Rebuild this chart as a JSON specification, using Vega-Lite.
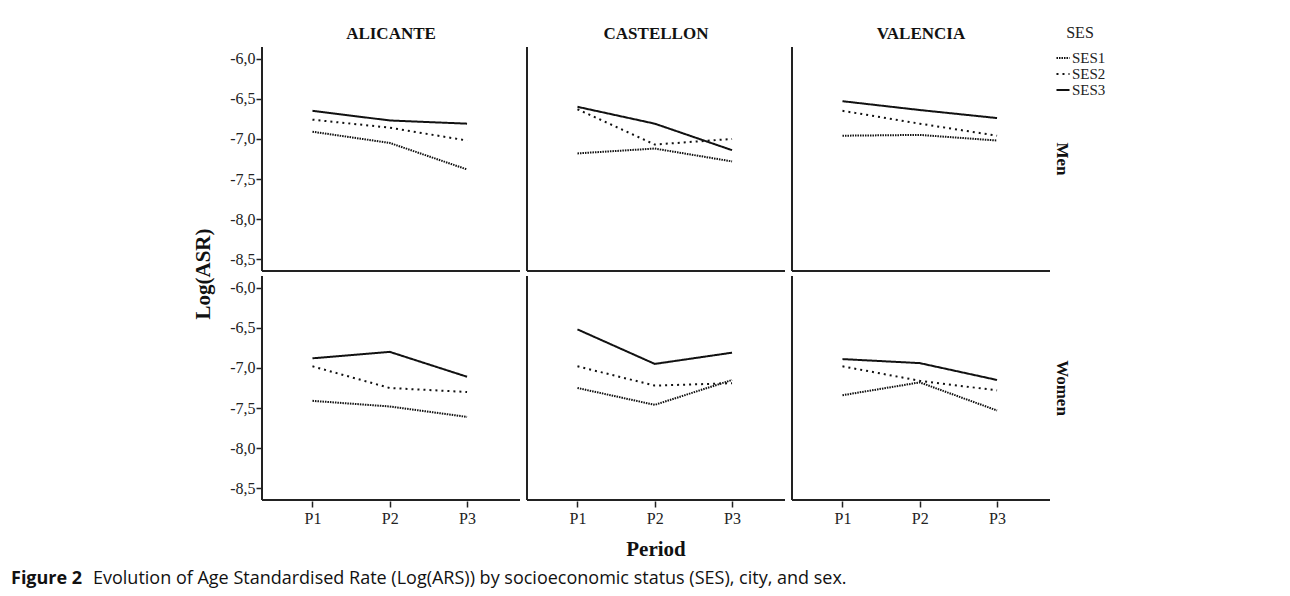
{
  "$schema": "https://vega.github.io/schema/vega-lite/v6.json",
  "padding": {"left": 11, "top": 25, "right": 0, "bottom": 0},
  "background": "white",
  "datasets": {
    "rates": [
      {"city": "ALICANTE", "sex": "Men", "ses": "SES1", "p": 1, "v": -6.91},
      {"city": "ALICANTE", "sex": "Men", "ses": "SES1", "p": 2, "v": -7.05},
      {"city": "ALICANTE", "sex": "Men", "ses": "SES1", "p": 3, "v": -7.38},
      {"city": "ALICANTE", "sex": "Men", "ses": "SES2", "p": 1, "v": -6.76},
      {"city": "ALICANTE", "sex": "Men", "ses": "SES2", "p": 2, "v": -6.86},
      {"city": "ALICANTE", "sex": "Men", "ses": "SES2", "p": 3, "v": -7.02},
      {"city": "ALICANTE", "sex": "Men", "ses": "SES3", "p": 1, "v": -6.65},
      {"city": "ALICANTE", "sex": "Men", "ses": "SES3", "p": 2, "v": -6.77},
      {"city": "ALICANTE", "sex": "Men", "ses": "SES3", "p": 3, "v": -6.81},
      {"city": "CASTELLON", "sex": "Men", "ses": "SES1", "p": 1, "v": -7.18},
      {"city": "CASTELLON", "sex": "Men", "ses": "SES1", "p": 2, "v": -7.12},
      {"city": "CASTELLON", "sex": "Men", "ses": "SES1", "p": 3, "v": -7.28},
      {"city": "CASTELLON", "sex": "Men", "ses": "SES2", "p": 1, "v": -6.63},
      {"city": "CASTELLON", "sex": "Men", "ses": "SES2", "p": 2, "v": -7.07},
      {"city": "CASTELLON", "sex": "Men", "ses": "SES2", "p": 3, "v": -7.0},
      {"city": "CASTELLON", "sex": "Men", "ses": "SES3", "p": 1, "v": -6.6},
      {"city": "CASTELLON", "sex": "Men", "ses": "SES3", "p": 2, "v": -6.81},
      {"city": "CASTELLON", "sex": "Men", "ses": "SES3", "p": 3, "v": -7.14},
      {"city": "VALENCIA", "sex": "Men", "ses": "SES1", "p": 1, "v": -6.96},
      {"city": "VALENCIA", "sex": "Men", "ses": "SES1", "p": 2, "v": -6.95},
      {"city": "VALENCIA", "sex": "Men", "ses": "SES1", "p": 3, "v": -7.02},
      {"city": "VALENCIA", "sex": "Men", "ses": "SES2", "p": 1, "v": -6.65},
      {"city": "VALENCIA", "sex": "Men", "ses": "SES2", "p": 2, "v": -6.81},
      {"city": "VALENCIA", "sex": "Men", "ses": "SES2", "p": 3, "v": -6.96},
      {"city": "VALENCIA", "sex": "Men", "ses": "SES3", "p": 1, "v": -6.53},
      {"city": "VALENCIA", "sex": "Men", "ses": "SES3", "p": 2, "v": -6.64},
      {"city": "VALENCIA", "sex": "Men", "ses": "SES3", "p": 3, "v": -6.74},
      {"city": "ALICANTE", "sex": "Women", "ses": "SES1", "p": 1, "v": -7.41},
      {"city": "ALICANTE", "sex": "Women", "ses": "SES1", "p": 2, "v": -7.48},
      {"city": "ALICANTE", "sex": "Women", "ses": "SES1", "p": 3, "v": -7.61},
      {"city": "ALICANTE", "sex": "Women", "ses": "SES2", "p": 1, "v": -6.98},
      {"city": "ALICANTE", "sex": "Women", "ses": "SES2", "p": 2, "v": -7.25},
      {"city": "ALICANTE", "sex": "Women", "ses": "SES2", "p": 3, "v": -7.3},
      {"city": "ALICANTE", "sex": "Women", "ses": "SES3", "p": 1, "v": -6.88},
      {"city": "ALICANTE", "sex": "Women", "ses": "SES3", "p": 2, "v": -6.8},
      {"city": "ALICANTE", "sex": "Women", "ses": "SES3", "p": 3, "v": -7.11},
      {"city": "CASTELLON", "sex": "Women", "ses": "SES1", "p": 1, "v": -7.25},
      {"city": "CASTELLON", "sex": "Women", "ses": "SES1", "p": 2, "v": -7.46},
      {"city": "CASTELLON", "sex": "Women", "ses": "SES1", "p": 3, "v": -7.15},
      {"city": "CASTELLON", "sex": "Women", "ses": "SES2", "p": 1, "v": -6.98},
      {"city": "CASTELLON", "sex": "Women", "ses": "SES2", "p": 2, "v": -7.22},
      {"city": "CASTELLON", "sex": "Women", "ses": "SES2", "p": 3, "v": -7.19},
      {"city": "CASTELLON", "sex": "Women", "ses": "SES3", "p": 1, "v": -6.52},
      {"city": "CASTELLON", "sex": "Women", "ses": "SES3", "p": 2, "v": -6.95},
      {"city": "CASTELLON", "sex": "Women", "ses": "SES3", "p": 3, "v": -6.81},
      {"city": "VALENCIA", "sex": "Women", "ses": "SES1", "p": 1, "v": -7.34},
      {"city": "VALENCIA", "sex": "Women", "ses": "SES1", "p": 2, "v": -7.18},
      {"city": "VALENCIA", "sex": "Women", "ses": "SES1", "p": 3, "v": -7.53},
      {"city": "VALENCIA", "sex": "Women", "ses": "SES2", "p": 1, "v": -6.98},
      {"city": "VALENCIA", "sex": "Women", "ses": "SES2", "p": 2, "v": -7.16},
      {"city": "VALENCIA", "sex": "Women", "ses": "SES2", "p": 3, "v": -7.28},
      {"city": "VALENCIA", "sex": "Women", "ses": "SES3", "p": 1, "v": -6.89},
      {"city": "VALENCIA", "sex": "Women", "ses": "SES3", "p": 2, "v": -6.94},
      {"city": "VALENCIA", "sex": "Women", "ses": "SES3", "p": 3, "v": -7.15}
    ]
  },
  "title": {
    "text": "Evolution of Age Standardised Rate (Log(ARS)) by socioeconomic status (SES), city, and sex.",
    "orient": "bottom", "anchor": "start", "frame": "bounds",
    "font": "Open Sans", "fontSize": 18, "fontWeight": "normal", "color": "#111",
    "offset": 0, "dx": 82, "dy": -18
  },
  "vconcat": [
    {
      "data": {"name": "rates"},
      "title": {
        "text": "Figure 2",
        "orient": "bottom", "anchor": "start", "frame": "bounds",
        "font": "Open Sans", "fontSize": 18, "fontWeight": "bold", "color": "#111",
        "offset": 10, "dx": -182
      },
      "facet": {
        "row": {
          "field": "sex", "type": "nominal", "sort": ["Men", "Women"],
          "header": {
            "title": "Log(ASR)", "titleOrient": "left", "titleAngle": -90,
            "titleFont": "Liberation Serif", "titleFontSize": 21, "titleFontWeight": "bold", "titleColor": "#111", "titlePadding": -16,
            "labelOrient": "right", "labelAngle": 90, "labelFont": "Liberation Serif", "labelFontSize": 17,
            "labelFontWeight": "bold", "labelColor": "#111", "labelPadding": 2
          }
        },
        "column": {
          "field": "city", "type": "nominal", "sort": ["ALICANTE", "CASTELLON", "VALENCIA"],
          "header": {
            "title": "Period", "titleOrient": "bottom",
            "titleFont": "Liberation Serif", "titleFontSize": 21, "titleFontWeight": "bold", "titleColor": "#111", "titlePadding": 3,
            "labelOrient": "top", "labelFont": "Liberation Serif", "labelFontSize": 17,
            "labelFontWeight": "bold", "labelColor": "#111", "labelPadding": 3
          }
        }
      },
      "spacing": {"row": 3, "column": 5},
      "spec": {
        "width": 258,
        "height": 224,
        "layer": [
          {
            "mark": {"type": "line", "color": "#111", "strokeWidth": 2},
            "encoding": {
              "x": {
                "field": "p", "type": "quantitative",
                "scale": {"domain": [0.347, 3.685], "nice": false, "zero": false},
                "axis": {
                  "title": null, "values": [1, 2, 3], "labelExpr": "'P' + datum.value",
                  "domain": false, "grid": false, "tickSize": 6, "tickColor": "#222", "tickWidth": 1.5,
                  "labelFont": "Liberation Serif", "labelFontSize": 16, "labelColor": "#222", "labelPadding": 3
                }
              },
              "y": {
                "field": "v", "type": "quantitative",
                "scale": {"domain": [-8.645, -5.855], "nice": false, "zero": false},
                "axis": {
                  "title": null, "values": [-8.5, -8, -7.5, -7, -6.5, -6],
                  "labelExpr": "replace(replace(format(datum.value, '.1f'), '.', ','), '\u2212', '-')",
                  "domain": false, "grid": false, "tickSize": 5, "tickColor": "#222", "tickWidth": 1.5,
                  "labelFont": "Liberation Serif", "labelFontSize": 16, "labelColor": "#222", "labelPadding": 1
                }
              },
              "strokeDash": {
                "field": "ses", "type": "nominal",
                "scale": {"domain": ["SES1", "SES2", "SES3"], "range": [[1.5, 1], [2, 4], [1, 0]]},
                "legend": {
                  "title": "SES", "orient": "none", "legendX": 793, "legendY": -22,
                  "titleFont": "Liberation Serif", "titleFontSize": 16, "titleFontWeight": "normal", "titleColor": "#222",
                  "titleAnchor": "middle", "titleAlign": "center", "titlePadding": 9,
                  "labelFont": "Liberation Serif", "labelFontSize": 15, "labelColor": "#222", "labelOffset": 1,
                  "symbolType": "stroke", "symbolStrokeWidth": 2, "symbolStrokeColor": "#111", "symbolSize": 170,
                  "rowPadding": -2.5
                }
              }
            }
          },
          {
            "transform": [{"filter": "datum.p == 1 && datum.ses == 'SES1'"}],
            "mark": {"type": "rule", "color": "#222", "strokeWidth": 2},
            "encoding": {"x": {"datum": 0.347, "type": "quantitative"}}
          },
          {
            "transform": [{"filter": "datum.p == 1 && datum.ses == 'SES1'"}],
            "mark": {"type": "rule", "color": "#222", "strokeWidth": 2},
            "encoding": {"y": {"datum": -8.645, "type": "quantitative"}}
          }
        ]
      }
    }
  ],
  "config": {
    "view": {"stroke": null},
    "font": "Liberation Serif"
  }
}
